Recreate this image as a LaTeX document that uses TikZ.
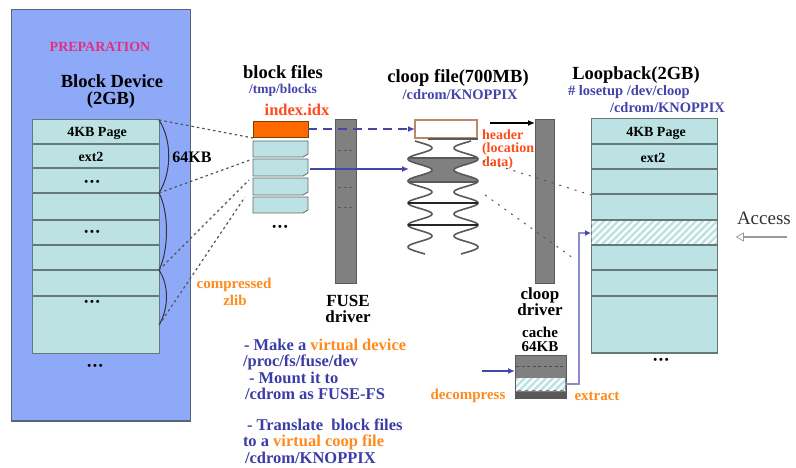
\documentclass[tikz,border=0pt]{standalone}
\usepackage{fontspec}
\setmainfont{Liberation Serif}
\usetikzlibrary{arrows.meta,patterns.meta,shapes.arrows}
\definecolor{prepbg}{HTML}{8FA9F9}
\definecolor{prepline}{HTML}{5A6478}
\definecolor{rowfill}{HTML}{BDE2E3}
\definecolor{rowline}{HTML}{66797A}
\definecolor{bluetxt}{HTML}{4343AA}
\definecolor{notetxt}{HTML}{3C3CA8}
\definecolor{orangetxt}{HTML}{FF8A1E}
\definecolor{redtxt}{HTML}{FF4A1A}
\definecolor{pinktxt}{HTML}{E0307F}
\definecolor{bargray}{HTML}{808080}
\definecolor{bardark}{HTML}{5A5A5A}
\definecolor{idxorange}{HTML}{FF6A00}
\definecolor{brownline}{HTML}{B8896A}
\definecolor{dotgray}{HTML}{555555}
\definecolor{lineblue}{HTML}{4646A8}
\definecolor{lightpurple}{HTML}{8C8CCC}
\begin{document}
\begin{tikzpicture}[x=1pt,y=-1pt,
  every node/.style={inner sep=0pt, outer sep=0pt},
  ttl/.style={font=\fontsize{18.5}{19}\selectfont\bfseries},
  lbl/.style={font=\fontsize{14}{15}\selectfont\bfseries},
  bluelbl/.style={font=\fontsize{14.5}{15}\selectfont\bfseries, text=bluetxt},
  orglbl/.style={font=\fontsize{15}{15}\selectfont\bfseries, text=orangetxt},
  redlbl/.style={font=\fontsize{14}{14}\selectfont\bfseries, text=redtxt, anchor=west},
  drvlbl/.style={font=\fontsize{17}{17}\selectfont\bfseries},
  note/.style={font=\fontsize{16.5}{16.5}\selectfont\bfseries, text=notetxt, anchor=west},
  bulletrow/.style={font=\fontsize{11}{12}\selectfont\bfseries},
  rowbox/.style={fill=rowfill, draw=rowline, line width=1pt, anchor=north west},
  sep/.style={draw=rowline, line width=1.6pt},
  hatchband/.style={pattern={Lines[angle=45,distance=5pt,line width=2.2pt]}, pattern color=white},
  barbox/.style={fill=bargray, draw=bardark, line width=0.8pt, anchor=north west},
  bardash/.style={draw=bardark, line width=1pt, dash pattern=on 3pt off 2.5pt},
  dotline/.style={draw=dotgray, line width=1.2pt, dash pattern=on 2.5pt off 3pt},
  bracecurve/.style={draw=black!80, line width=1pt},
  blockdoc/.style={fill=rowfill, draw=gray!80!black, line width=0.8pt},
  wavestyle/.style={draw=black!65, line width=1.6pt},
  arr/.style={-{Latex[length=7pt,width=6pt]}},
]
\useasboundingbox (0,0) rectangle (796,468);

% ---------- PREPARATION block device ----------
\node[fill=prepbg, draw=prepline, line width=0.8pt, minimum width=179pt, minimum height=412pt, anchor=north west] (prep) at (11,9) {};
\draw[prepline, line width=2pt] (prep.south west) -- (prep.south east);
\node[font=\fontsize{14}{15}\selectfont\bfseries, text=pinktxt] (preptitle) at (100,47) {PREPARATION};
\node[ttl] (bdev) at (112,81) {Block Device};
\node[ttl] (bdev2) at (111,100) {(2GB)};

\node[rowbox, minimum width=127pt, minimum height=233pt] (lstack) at (32,120) {};
\foreach \yy in {144,168,220,245} \draw[sep, line width=1.3pt] (32,\yy) -- (159,\yy);
\foreach \yy in {193,270,296} \draw[sep, line width=2pt] (32,\yy) -- (159,\yy);
\node[lbl] (lpage) at (97,133) {4KB Page};
\node[lbl] (lext) at (91,157) {ext2};
\node[bulletrow] (ld1) at (92,183) {\textbullet\,\textbullet\,\textbullet};
\node[bulletrow] (ld2) at (92,233) {\textbullet\,\textbullet\,\textbullet};
\node[bulletrow] (ld3) at (92,303) {\textbullet\,\textbullet\,\textbullet};
\node[bulletrow] (ld4) at (95,367) {\textbullet\,\textbullet\,\textbullet};

% braces
\coordinate (b0) at (159,120);
\coordinate (b1) at (159,193);
\coordinate (b2) at (159,270);
\coordinate (b3) at (159,325);
\draw[bracecurve] (b0) .. controls (172,140) and (172,172) .. (b1);
\draw[bracecurve] (b1) .. controls (169,212) and (169,250) .. (b2);
\draw[bracecurve] (b2) .. controls (169,285) and (169,308) .. (b3);
\node[font=\fontsize{16}{16}\selectfont\bfseries] (kb64) at (192,157) {64KB};

% ---------- block files ----------
\node[ttl] (bfiles) at (283,72) {block files};
\node[bluelbl, font=\fontsize{13.5}{14}\selectfont\bfseries] (tmpb) at (283,90) {/tmp/blocks};
\node[font=\fontsize{16.5}{17}\selectfont\bfseries, text=redtxt] (idxlbl) at (297,110) {index.idx};
\node[fill=idxorange, draw=orange!50!black, line width=0.6pt, minimum width=55pt, minimum height=16pt, anchor=north west] (idx) at (253,121) {};
\foreach \t/\b in {141/157,159/176,178/195,197/213}
  \draw[blockdoc] (253,\t) -- (308,\t) -- (308,{\b-3}) -- (303,\b) -- (253,\b) -- cycle;
\node[bulletrow] (bfdots) at (280,228) {\textbullet\,\textbullet\,\textbullet};

\coordinate (k0) at (253,138);
\coordinate (k1) at (250,160);
\coordinate (k2) at (249,180);
\coordinate (k3) at (245,197);
\draw[dotline] (b0) -- (k0);
\draw[dotline] (b1) -- (k1);
\draw[dotline] (b2) -- (k2);
\draw[dotline] (b3) -- (k3);
\node[orglbl] (comp) at (234,285) {compressed};
\node[orglbl] (zlib) at (235,300) {zlib};

% ---------- FUSE driver ----------
\node[barbox, minimum width=21pt, minimum height=164pt] (fuse) at (335,119) {};
\foreach \yy in {151,188,208} \draw[bardash] (338,\yy) -- (354,\yy);
\node[drvlbl] (fusel1) at (348,301) {FUSE};
\node[drvlbl] (fusel2) at (348,317) {driver};

% ---------- cloop file ----------
\node[ttl] (cfile) at (458,78) {cloop file(700MB)};
\node[bluelbl] (cdrom1) at (460,95) {/cdrom/KNOPPIX};
\node[fill=white, draw=brownline, line width=1.2pt, minimum width=62pt, minimum height=18pt, anchor=north west] (hdr) at (415,120) {};
\draw[bardark, line width=2.5pt] (428,139) -- (478,139);

% gray chunk between the waves
\fill[bargray] plot[domain=158:182, samples=30, smooth, variable=\t] ({420+12*sin((\t-203)*16.36+270)}, \t)
  -- plot[domain=182:158, samples=30, smooth, variable=\t] ({466-12*sin((\t-203)*16.36+270)}, \t) -- cycle;
\draw[bardark, line width=1.2pt] (410,158) -- (478,158);
\draw[bardark, line width=1.2pt] (409,182) -- (478,182);
% springs
\draw[wavestyle] plot[domain=141:254, samples=140, smooth, variable=\t] ({420+12*sin((\t-203)*16.36+270)}, \t);
\draw[wavestyle] plot[domain=141:254, samples=140, smooth, variable=\t] ({466-12*sin((\t-203)*16.36+270)}, \t);
\draw[black!85, line width=1.8pt] (408,203) -- (478,203);
\draw[black!85, line width=1.8pt] (408,225) -- (478,225);

\node[redlbl] (hd1) at (482,135) {header};
\node[redlbl] (hd2) at (482,149) {(location};
\node[redlbl] (hd3) at (482,163) {data)};

% arrows from block files
\draw[lineblue, line width=1.5pt, dash pattern=on 9pt off 6pt, arr] (idx.east) -- (hdr.west);
\coordinate (s2) at (310,169);
\coordinate (gs) at (409,169);
\draw[lineblue, line width=1.5pt, arr] (s2) -- (gs);

% ---------- cloop driver ----------
\node[barbox, minimum width=19pt, minimum height=164pt] (cbar) at (535,119) {};
\coordinate (h1) at (490,123);
\draw[black, line width=2pt, arr] (h1) -- (h1 -| cbar.west);
\node[drvlbl] (cl1) at (540,295) {cloop};
\node[drvlbl] (cl2) at (540,310) {driver};
\node[font=\fontsize{15}{15}\selectfont\bfseries] (ca1) at (540,332) {cache};
\node[font=\fontsize{15}{15}\selectfont\bfseries] (ca2) at (540,347) {64KB};

% cache
\node[barbox, minimum width=51pt, minimum height=43pt] (cache) at (515,355) {};
\draw[bardash, draw=black!70] (516,366) -- (565,366);
\fill[rowfill] (516,378) rectangle (565,390);
\fill[hatchband] (516,378) rectangle (565,390);
\fill[bardark] (515.4,392) rectangle (565.6,397.6);
\coordinate (dc) at (482,371);
\draw[lineblue, line width=1.5pt, arr] (dc) -- (dc -| cache.west);
\node[orglbl] (decomp) at (468,396) {decompress};
\node[orglbl] (extr) at (597,396) {extract};

% ---------- Loopback ----------
\node[ttl] (loopt) at (636,75) {Loopback(2GB)};
\node[bluelbl, anchor=west] (lose1) at (568,92) {\# losetup /dev/cloop};
\node[bluelbl, anchor=west] (lose2) at (610,108) {/cdrom/KNOPPIX};
\node[rowbox, minimum width=126pt, minimum height=234pt] (lstack2) at (591,119) {};
\fill[hatchband] (591.5,220) rectangle (716.5,245);
\foreach \yy in {144,169,194,220,245,270,296} \draw[sep] (591,\yy) -- (717,\yy);
\draw[rowline, line width=2pt] (lstack2.south west) -- (lstack2.south east);
\node[lbl] (rpage) at (656,133) {4KB Page};
\node[lbl] (rext) at (653,158) {ext2};
\node[bulletrow] (rdots) at (661,361) {\textbullet\,\textbullet\,\textbullet};

% dotted mapping cloop -> loopback
\coordinate (g1) at (483,161);
\coordinate (g2) at (485,195);
\coordinate (l1) at (591,195);
\coordinate (l2) at (573,258);
\draw[dotline, line width=1pt, dash pattern=on 2pt off 6pt] (g1) -- (l1);
\draw[dotline, line width=1pt, dash pattern=on 2pt off 6pt] (g2) -- (l2);

% extract path
\coordinate (ex0) at (566,384);
\coordinate (ex1) at (579,233);
\draw[lightpurple, line width=1.5pt, -{Latex[length=6pt,width=6pt, color=lineblue]}] (ex0) -| (ex1) -- (ex1 -| lstack2.west);

% Access
\node[font=\fontsize{19}{19}\selectfont, text=black!80, anchor=west] (acc) at (737,218) {Access};
\node[single arrow, draw=gray!80, fill=white, line width=0.7pt, shape border rotate=180, minimum height=50pt, minimum width=8pt, single arrow head extend=2pt, single arrow tip angle=60] (accarrow) at (762,237) {};

% ---------- notes ----------
\node[note] (n1) at (244,345) {- Make a \textcolor{orangetxt}{virtual device}};
\node[note] (n2) at (243,362) {/proc/fs/fuse/dev};
\node[note] (n3) at (249,378) {- Mount it to};
\node[note] (n4) at (245,394) {/cdrom as FUSE-FS};
\node[note] (n5) at (247,425) {- Translate\ \ block files};
\node[note] (n6) at (243,442) {to a \textcolor{orangetxt}{virtual coop file}};
\node[note] (n7) at (245,458) {/cdrom/KNOPPIX};
\end{tikzpicture}
\end{document}
